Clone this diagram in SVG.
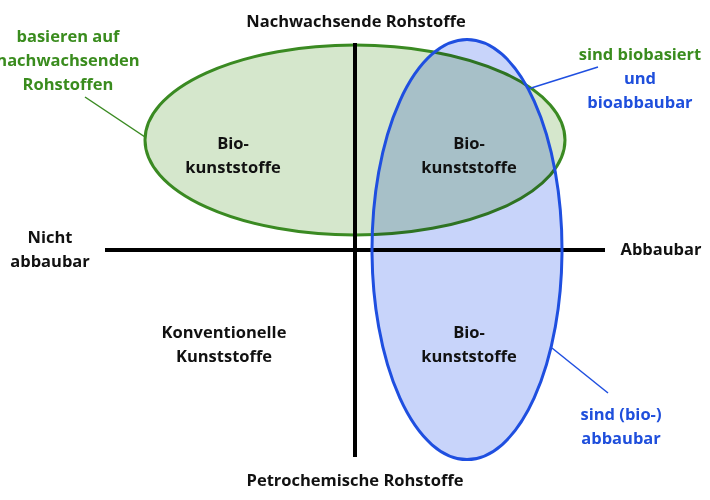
<svg xmlns="http://www.w3.org/2000/svg" width="710" height="500" viewBox="0 0 710 500">
<style>
text{font-family:"Open Sans","Noto Sans","DejaVu Sans",sans-serif;font-weight:700;font-size:16.5px;text-anchor:middle;fill:#111}
.g{fill:#3a8c1e}
.b{fill:#1f4fdc}
.ax{stroke:#000;stroke-width:4;fill:none}
</style>
<rect width="710" height="500" fill="#fff"/>
<g id="green-ellipse">
<ellipse cx="355" cy="140" rx="210" ry="95" fill="#d5e7cc" stroke="#3a8a22" stroke-width="3"/>
</g>
<g id="axes">
<line class="ax" x1="355" y1="43" x2="355" y2="457"/>
<line class="ax" x1="105" y1="250" x2="605" y2="250" stroke-width="3.5"/>
</g>
<g id="blue-ellipse">
<ellipse cx="467" cy="249.5" rx="95" ry="210" fill="#c8d4fa" style="mix-blend-mode:multiply"/>
<ellipse cx="467" cy="249.5" rx="95" ry="210" fill="none" stroke="#1f4fe0" stroke-width="3"/>
</g>
<g id="connectors">
<line x1="85" y1="97" x2="145" y2="137" stroke="#3a8a22" stroke-width="1.5"/>
<line x1="528" y1="89" x2="598" y2="67" stroke="#1f4fe0" stroke-width="1.5"/>
<line x1="552" y1="348" x2="608" y2="393" stroke="#1f4fe0" stroke-width="1.5"/>
</g>
<g id="label-top"><text x="356" y="27">Nachwachsende Rohstoffe</text></g>
<g id="label-bottom"><text x="355" y="486">Petrochemische Rohstoffe</text></g>
<g id="label-left"><text x="50" y="243">Nicht</text><text x="50" y="267">abbaubar</text></g>
<g id="label-right"><text x="661" y="255">Abbaubar</text></g>
<g id="bio-left"><text x="233" y="149">Bio-</text><text x="233" y="173">kunststoffe</text></g>
<g id="bio-middle"><text x="469" y="149">Bio-</text><text x="469" y="173">kunststoffe</text></g>
<g id="bio-bottom"><text x="469" y="338">Bio-</text><text x="469" y="362">kunststoffe</text></g>
<g id="konventionell"><text x="224" y="338">Konventionelle</text><text x="224" y="362">Kunststoffe</text></g>
<g id="note-green"><text class="g" x="68" y="42">basieren auf</text><text class="g" x="68" y="66">nachwachsenden</text><text class="g" x="68" y="90">Rohstoffen</text></g>
<g id="note-both"><text class="g" x="640" y="60">sind biobasiert</text><text class="b" x="640" y="84">und</text><text class="b" x="640" y="108">bioabbaubar</text></g>
<g id="note-blue"><text class="b" x="621" y="420">sind (bio-)</text><text class="b" x="621" y="444">abbaubar</text></g>
</svg>
